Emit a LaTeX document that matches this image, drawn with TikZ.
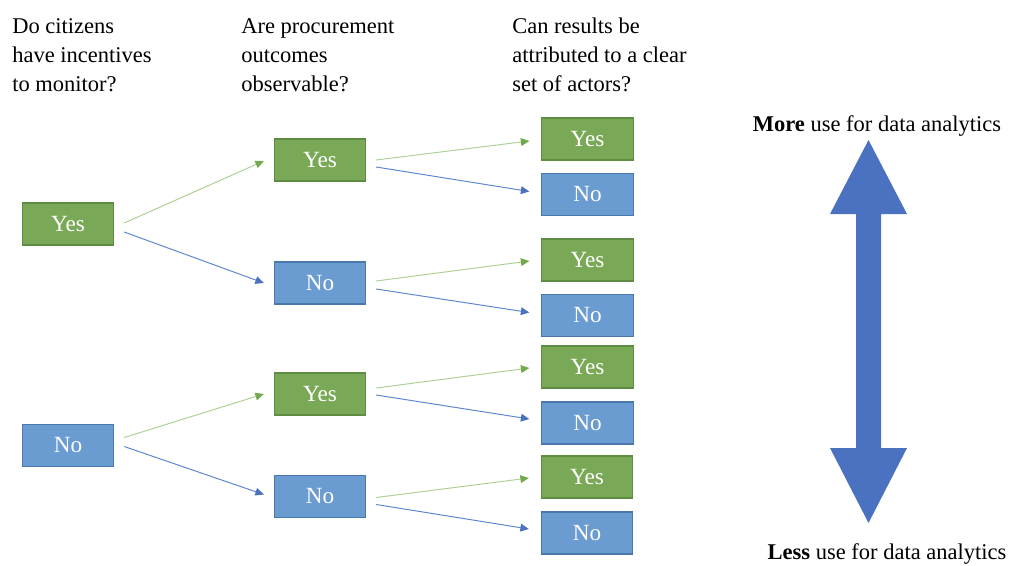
\documentclass[tikz,border=0pt]{standalone}
\usepackage{fontspec}
\setmainfont{Liberation Serif}
\usetikzlibrary{calc,arrows.meta}

\definecolor{boxgreen}{HTML}{79A956}
\definecolor{edgegreen}{HTML}{5E8C40}
\definecolor{boxblue}{HTML}{6A9BD1}
\definecolor{edgeblue}{HTML}{4B78AB}
\definecolor{linegreen}{HTML}{AED193}
\definecolor{tipgreen}{HTML}{72A84E}
\definecolor{lineblue}{HTML}{5E86CF}
\definecolor{bigblue}{HTML}{4B72C0}

\begin{document}
\begin{tikzpicture}[x=0.025cm,y=-0.025cm,
  every node/.style={font=\fontsize{16}{20.6}\selectfont},
  yesbox/.style={draw=edgegreen,fill=boxgreen,text=white,line width=0.8pt,
    minimum width=2.28cm,minimum height=1.05cm,inner sep=0pt,
    font=\fontsize{16.5}{20.6}\selectfont},
  nobox/.style={yesbox,draw=edgeblue,fill=boxblue},
  yesline/.style={draw=linegreen,line width=0.7pt,
    -{Triangle[length=6pt,width=5.5pt,color=tipgreen]}},
  noline/.style={draw=lineblue,line width=0.7pt,
    -{Triangle[length=6pt,width=5.5pt,color=bigblue]}},
  question/.style={anchor=north west,align=left,inner sep=0pt}]
\useasboundingbox (0,0) rectangle (1010,565);

% questions
\node[question] (q1) at (12,18) {Do citizens\\have incentives\\to monitor?};
\node[question] (q2) at (241,18) {Are procurement\\outcomes\\observable?};
\node[question] (q3) at (512,18) {Can results be\\attributed to a clear\\set of actors?};

% first level
\node[yesbox] (a1) at (68,224) {Yes};
\node[nobox] (a2) at (68,445.5) {No};

% second level
\node[yesbox] (b1) at (320,160) {Yes};
\node[nobox] (b2) at (320,283) {No};
\node[yesbox] (b3) at (320,394) {Yes};
\node[nobox] (b4) at (320,496.5) {No};

% third level
\node[yesbox] (c1) at (587.5,139) {Yes};
\node[nobox] (c2) at (587.5,194.5) {No};
\node[yesbox] (c3) at (587.5,260) {Yes};
\node[nobox] (c4) at (587.5,315.5) {No};
\node[yesbox] (c5) at (587.5,367) {Yes};
\node[nobox] (c6) at (587.5,423) {No};
\node[yesbox] (c7) at (587,477) {Yes};
\node[nobox] (c8) at (587,533) {No};

% branches
\draw[yesline] ($(a1.east)+(10,-1)$) -- ($(b1.west)+(-10,1)$);
\draw[noline] ($(a1.east)+(10,8)$) -- ($(b2.west)+(-10,0)$);
\draw[yesline] ($(a2.east)+(10,-8)$) -- ($(b3.west)+(-10,0)$);
\draw[noline] ($(a2.east)+(10,1)$) -- ($(b4.west)+(-10,-2)$);

\draw[yesline] ($(b1.east)+(10,0)$) -- ($(c1.west)+(-12,2)$);
\draw[noline] ($(b1.east)+(10,7)$) -- ($(c2.west)+(-12,-3)$);
\draw[yesline] ($(b2.east)+(10,-2)$) -- ($(c3.west)+(-12,1)$);
\draw[noline] ($(b2.east)+(10,6)$) -- ($(c4.west)+(-12,-3)$);
\draw[yesline] ($(b3.east)+(10,-6)$) -- ($(c5.west)+(-12,1)$);
\draw[noline] ($(b3.east)+(10,1)$) -- ($(c6.west)+(-12,-4)$);
\draw[yesline] ($(b4.east)+(10,1)$) -- ($(c7.west)+(-12,1)$);
\draw[noline] ($(b4.east)+(10,8)$) -- ($(c8.west)+(-12,-4)$);

% scale on the right
\fill[bigblue] (868.5,140) -- (907,214) -- (881,214) -- (881,448) -- (907,448)
  -- (868.5,523) -- (830,448) -- (856,448) -- (856,214) -- (830,214) -- cycle;
\node[anchor=base] (more) at (877,131) {\textbf{More} use for data analytics};
\node[anchor=base] (less) at (887,559) {\textbf{Less} use for data analytics};
\end{tikzpicture}
\end{document}
